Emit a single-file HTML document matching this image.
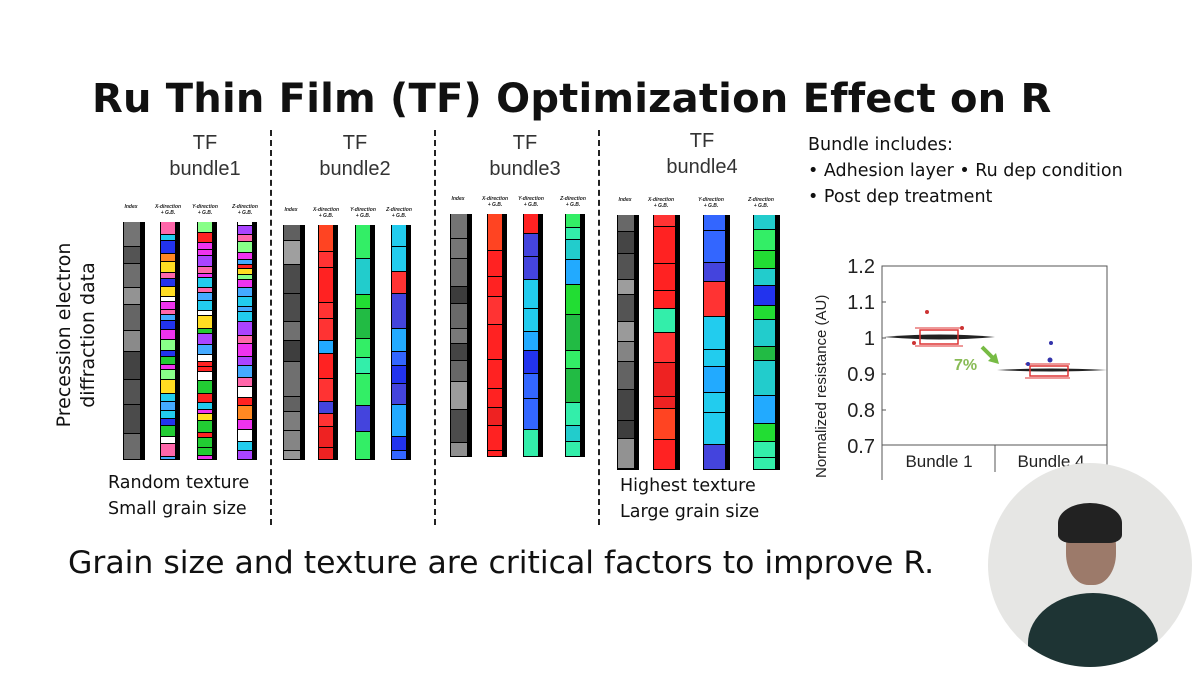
<!DOCTYPE html><html><head><style>
body{margin:0;width:1200px;height:675px;background:#fff;position:relative;overflow:hidden;font-family:"Liberation Sans",sans-serif}
.a{position:absolute}
.t{font-family:"DejaVu Sans","Liberation Sans",sans-serif;color:#111}
.hd{font-size:20px;text-align:center;color:#333;line-height:26px}
.dash{position:absolute;width:0;border-left:2px dashed #222;top:130px;height:395px}
.lab{font-size:5px;font-style:italic;font-weight:bold;text-align:center;color:#222}
</style></head><body>
<div class="a t" style="left:92px;top:76px;font-size:40px;font-weight:bold;letter-spacing:0.2px;white-space:nowrap">Ru Thin Film (TF) Optimization Effect on R</div>
<div class="a hd" style="left:150px;top:130px;width:110px">TF<br>bundle1</div>
<div class="a hd" style="left:300px;top:130px;width:110px">TF<br>bundle2</div>
<div class="a hd" style="left:470px;top:130px;width:110px">TF<br>bundle3</div>
<div class="a hd" style="left:647px;top:128px;width:110px">TF<br>bundle4</div>
<div class="dash" style="left:270px"></div><div class="dash" style="left:434px"></div><div class="dash" style="left:598px"></div>
<div class="a t" style="left:52px;top:440px;transform:rotate(-90deg);transform-origin:0 0;font-size:19px;line-height:24px;text-align:center;width:210px">Precession electron<br>diffraction data</div>
<div class="a t" style="left:108px;top:470px;font-size:17.5px;line-height:26px">Random texture<br>Small grain size</div>
<div class="a t" style="left:620px;top:473px;font-size:17.5px;line-height:26px">Highest texture<br>Large grain size</div>
<div class="a t" style="left:808px;top:132px;font-size:17.5px;line-height:26px;white-space:nowrap">Bundle includes:<br>• Adhesion layer • Ru dep condition<br>• Post dep treatment</div>
<div class="a t" style="left:68px;top:545px;font-size:31.5px;white-space:nowrap">Grain size and texture are critical factors to improve R.</div>
<div id="strips"></div>
<svg class="a" style="left:800px;top:240px" width="320" height="240">
<rect x="82" y="26" width="225" height="222" fill="none" stroke="#555" stroke-width="1"/>
<line x1="82" y1="205" x2="307" y2="205" stroke="#555"/>
<line x1="195" y1="205" x2="195" y2="232" stroke="#555"/>
<g stroke="#555"><line x1="82" y1="26" x2="86" y2="26"/><line x1="82" y1="62" x2="86" y2="62"/><line x1="82" y1="98" x2="86" y2="98"/><line x1="82" y1="134" x2="86" y2="134"/><line x1="82" y1="170" x2="86" y2="170"/></g>
<g font-family="Liberation Sans" font-size="20" fill="#222" text-anchor="end"><text x="75" y="33">1.2</text><text x="75" y="69">1.1</text><text x="75" y="105">1</text><text x="75" y="141">0.9</text><text x="75" y="177">0.8</text><text x="75" y="213">0.7</text></g>
<text x="26" y="238" transform="rotate(-90 26 238)" font-family="Liberation Sans" font-size="15" fill="#222">Normalized resistance (AU)</text>
<g font-family="Liberation Sans" font-size="17" fill="#222" text-anchor="middle"><text x="139" y="227">Bundle 1</text><text x="251" y="227">Bundle 4</text></g>
<path d="M84 97 Q140 92 195 97 Q140 102 84 97Z" fill="#222"/>
<path d="M197 130 Q250 127 307 130 Q250 133 197 130Z" fill="#222"/>
<rect x="120" y="90" width="38" height="14" fill="none" stroke="#d33" stroke-width="1.5"/>
<line x1="115" y1="88" x2="163" y2="88" stroke="#d33"/><line x1="115" y1="106" x2="163" y2="106" stroke="#d33"/>
<rect x="230" y="126" width="38" height="10" fill="none" stroke="#d33" stroke-width="1.5"/>
<line x1="225" y1="124" x2="270" y2="124" stroke="#d33"/><line x1="225" y1="138" x2="270" y2="138" stroke="#d33"/>
<circle cx="127" cy="72" r="2" fill="#c33"/><circle cx="114" cy="103" r="2" fill="#c33"/><circle cx="162" cy="88" r="2" fill="#c33"/>
<circle cx="251" cy="103" r="2" fill="#33a"/><circle cx="250" cy="120" r="2.5" fill="#33a"/><circle cx="228" cy="124" r="2" fill="#33a"/>
<text x="154" y="130" font-family="Liberation Sans" font-weight="bold" font-size="16" fill="#8b5">7%</text>
<path d="M182 107 L195 120" stroke="#7b4" stroke-width="4"/><path d="M199 124 L188 121 L196 113Z" fill="#7b4"/>
</svg>
<div class="a" style="left:988px;top:463px;width:204px;height:204px;border-radius:50%;background:#e6e6e4;overflow:hidden">
<div class="a" style="left:40px;top:130px;width:130px;height:100px;border-radius:50% 50% 0 0;background:#1e3434"></div>
<div class="a" style="left:78px;top:52px;width:50px;height:70px;border-radius:45%;background:#9c7a6a"></div>
<div class="a" style="left:70px;top:40px;width:64px;height:40px;border-radius:50% 50% 20% 20%;background:#222"></div>
</div>
<script>
var s=7;function r(){s=(s*9301+49297)%233280;return s/233280;}
var pal={mix:["#f22","#2c3","#23e","#fd2","#e3e","#2ce","#f82","#8f8","#a4f","#fff","#4af","#f6a"],
r:["#f22","#f33","#e22","#f42"],g:["#2d3","#3e6","#2cc","#3ea","#2b4"],b:["#23e","#36f","#2af","#2ce","#44d"]};
var H='';
function strip(x,y,w,h,kind){
 H+='<div class="a" style="left:'+x+'px;top:'+y+'px;width:'+w+'px;height:'+h+'px;background:#000"></div>';
 var yy=y;var iw=w-6;
 while(yy<y+h){var bh=kind=='mix'?4+r()*10:(kind=='i'?15+r()*20:12+r()*25);if(yy+bh>y+h)bh=y+h-yy;
  var c;if(kind=='i'){var v=60+r()*100|0;c='rgb('+v+','+v+','+v+')';}
  else{var p=pal[kind];if(kind!='mix'&&r()<0.15)p=pal[['r','g','b'][r()*3|0]];c=p[r()*p.length|0];}
  H+='<div class="a" style="left:'+(x+1)+'px;top:'+yy+'px;width:'+iw+'px;height:'+(bh-1)+'px;background:'+c+'"></div>';yy+=bh;}
}
function lab(x,y,t){H+='<div class="a lab" style="left:'+(x-12)+'px;top:'+y+'px;width:40px">'+t+'</div>';}
var B=[[[123,160,197,237],222,238,'mix','mix','mix',20],[[283,318,355,391],225,235,'r','g','b',20],[[450,487,523,565],214,243,'r','b','g',20],[[617,653,703,753],215,255,'r','b','g',27]];
B.forEach(function(b){var xs=b[0];
 strip(xs[0],b[1],22,b[2],'i');strip(xs[1],b[1],b[6],b[2],b[3]);strip(xs[2],b[1],b[6],b[2],b[4]);strip(xs[3],b[1],b[6],b[2],b[5]);
 lab(xs[0],b[1]-18,'Index');lab(xs[1],b[1]-18,'X-direction<br>+ G.B.');lab(xs[2],b[1]-18,'Y-direction<br>+ G.B.');lab(xs[3],b[1]-18,'Z-direction<br>+ G.B.');});
document.getElementById('strips').innerHTML=H;
</script>
</body></html>
